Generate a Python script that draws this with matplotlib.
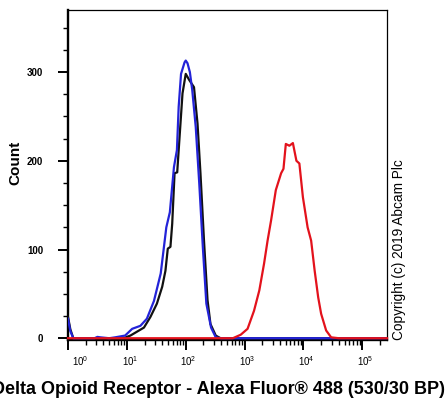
import numpy as np
import matplotlib
matplotlib.use("Agg")
import matplotlib.pyplot as plt
from matplotlib.ticker import FixedLocator, NullFormatter

plt.rcParams["font.family"] = ["Liberation Sans", "DejaVu Sans"]
plt.rcParams["mathtext.fontset"] = "custom"
plt.rcParams["mathtext.rm"] = "Liberation Sans"
plt.rcParams["mathtext.it"] = "Liberation Sans"

# Histogram traces, x given as log10 of fluorescence
black_logx = [0, 0.04, 0.09, 0.5, 0.94, 1.06, 1.29, 1.40, 1.51, 1.60, 1.655, 1.695, 1.74, 1.77,
              1.81, 1.855, 1.88, 1.945, 2.0, 2.06, 2.14, 2.20, 2.25, 2.31, 2.37, 2.42, 2.51, 2.59, 5.42]
black_count = [24, 10, 0, 0, 0, 3, 12, 24, 39, 58, 76, 101, 103, 129,
               186, 187, 212, 276, 298, 291, 283, 242, 186, 110, 43, 16, 3, 0, 0]

blue_logx = [0, 0.04, 0.09, 0.45, 0.5, 0.55, 0.7, 0.8, 0.97, 1.09, 1.23, 1.34, 1.46, 1.575, 1.67,
             1.73, 1.80, 1.85, 1.88, 1.92, 1.98, 2.0, 2.03, 2.07, 2.11, 2.17, 2.23, 2.29, 2.35,
             2.43, 2.51, 2.6, 5.42]
blue_count = [22, 8, 0, 0, 1.5, 1, 0, 1, 3, 10.6, 14, 22, 42, 73, 125,
              142, 193, 212, 261, 298, 311, 313, 310, 300, 280, 238, 174, 103, 39,
              12, 1, 0, 0]

red_logx = [0, 2.8, 2.935, 3.05, 3.16, 3.25, 3.33, 3.39, 3.45, 3.53, 3.62, 3.66, 3.70, 3.76,
            3.82, 3.88, 3.93, 3.99, 4.07, 4.13, 4.19, 4.25, 4.30, 4.385, 4.47, 4.6, 5.42]
red_count = [0, 0, 4, 10.6, 31, 54, 84, 110, 133, 167, 186, 191, 219, 217,
             220, 200, 197, 159, 125, 110, 76, 46, 27.5, 8.7, 1, 0, 0]

decades = [0, 1, 2, 3, 4, 5]
y_major = [0, 100, 200, 300]
y_minor = [25, 50, 75, 125, 150, 175, 225, 250, 275, 325, 350]

W, H = 447, 403
fig = plt.figure(figsize=(W / 100, H / 100), dpi=100)
ax = fig.add_axes([68 / W, 1 - 340 / H, (387 - 68) / W, (340 - 10) / H])

ax.plot(10 ** np.array(black_logx), black_count, color="#111111", lw=1.6, zorder=3)
ax.plot(10 ** np.array(blue_logx), blue_count, color="#2323d8", lw=1.6, zorder=4)
ax.plot(10 ** np.array(red_logx), red_count, color="#e3121c", lw=1.6, zorder=5, clip_on=False)

ax.set_xscale("log")
ax.set_xlim(1, 262144)
ax.set_ylim(-2, 370)

ax.xaxis.set_major_locator(FixedLocator([10 ** d for d in decades]))
minor = [m * 10 ** d for d in decades for m in range(2, 10) if m * 10 ** d < 262144]
ax.xaxis.set_minor_locator(FixedLocator(minor))
ax.xaxis.set_major_formatter(NullFormatter())
ax.xaxis.set_minor_formatter(NullFormatter())

ax.yaxis.set_major_locator(FixedLocator(y_major))
ax.yaxis.set_minor_locator(FixedLocator(y_minor))
ax.set_yticklabels([str(v) for v in y_major], fontsize=7, fontweight="bold")

ax.tick_params(axis="both", which="major", direction="out", length=7, width=1.4, color="black")
ax.tick_params(axis="both", which="minor", direction="out", length=3.5, width=1.0, color="black")
ax.tick_params(axis="y", which="major", pad=11)

for side in ["left", "bottom"]:
    ax.spines[side].set_linewidth(1.7)
for side in ["top", "right"]:
    ax.spines[side].set_linewidth(0.9)

# decade labels sit a little right of their ticks, first one more so
xt = ax.get_xaxis_transform()
for d in decades:
    shift = 0.21 if d == 0 else 0.05
    ax.text(10 ** (d + shift), -0.065, r"$10^{%d}$" % d, transform=xt,
            ha="center", va="center", fontsize=7)

fig.text(445 / W, 1 - 389 / H, "Delta Opioid Receptor - Alexa Fluor\u00ae 488 (530/30 BP)",
         ha="right", va="center", fontsize=13, fontweight="bold")
fig.text(15.5 / W, 1 - 163 / H, "Count", rotation=90, ha="center", va="center",
         fontsize=11, fontweight="bold")
fig.text(399 / W, 1 - 340 / H, "Copyright (c) 2019 Abcam Plc", rotation=90,
         ha="center", va="bottom", fontsize=9.8)

fig.savefig("out.png", dpi=100)
